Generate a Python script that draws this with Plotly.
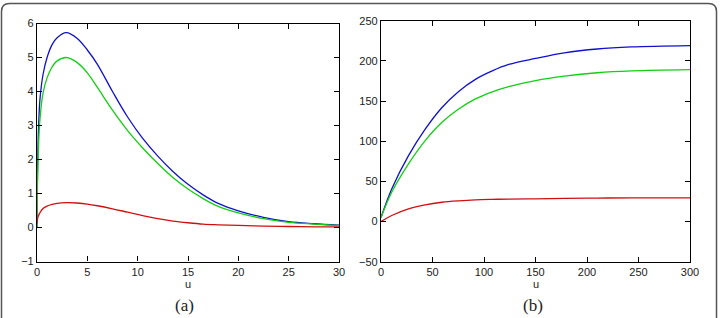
import plotly.graph_objects as go

# ---- panel (a) data ----
u_a = [0.0, 0.05, 0.15, 0.3, 0.6, 1.0, 1.5, 2.0, 2.9, 4.0, 5.0, 6.0, 7.5, 9.0, 10.5, 12.0, 13.5, 15.0, 16.5, 18.0, 20.0, 22.5, 25.0, 27.5, 30.0]
blue_a = [0.0, 1.6, 2.9, 3.79, 4.5, 5.0, 5.38, 5.58, 5.73, 5.56, 5.22, 4.8, 4.0, 3.25, 2.62, 2.1, 1.65, 1.27, 0.96, 0.71, 0.49, 0.3, 0.17, 0.11, 0.07]
green_a = [0.0, 1.3, 2.4, 3.2, 3.95, 4.4, 4.72, 4.9, 5.0, 4.85, 4.55, 4.12, 3.45, 2.85, 2.34, 1.88, 1.47, 1.13, 0.85, 0.62, 0.43, 0.26, 0.15, 0.1, 0.06]
red_a = [0.12, 0.25, 0.35, 0.44, 0.56, 0.63, 0.68, 0.71, 0.73, 0.72, 0.69, 0.64, 0.55, 0.45, 0.35, 0.26, 0.19, 0.14, 0.1, 0.08, 0.06, 0.04, 0.03, 0.02, 0.02]

# ---- panel (b) data ----
u_b = [0, 10.4, 26.7, 42.9, 59.2, 75.4, 91.7, 108, 124, 150, 178, 210, 243, 300]
blue_b = [5, 40.6, 82, 115, 142, 162, 177, 187.5, 195.5, 203, 210, 214.8, 217.3, 219]
green_b = [5, 36.5, 71.8, 100.7, 123.5, 140, 152.6, 161.5, 168, 175.5, 181, 185.2, 187.5, 189]
red_b = [0, 7.5, 15.8, 20.8, 24, 25.8, 27, 27.6, 28, 28.3, 28.8, 29.2, 29.4, 29.5]

xticks_a = [0, 5, 10, 15, 20, 25, 30]
yticks_a = [-1, 0, 1, 2, 3, 4, 5, 6]
xticks_b = [0, 50, 100, 150, 200, 250, 300]
yticks_b = [-50, 0, 50, 100, 150, 200, 250]

W, H = 723, 318
fig = go.Figure()

line_w = 1.3
for x, ys, ax in [(u_a, (blue_a, green_a, red_a), ("x", "y")), (u_b, (blue_b, green_b, red_b), ("x2", "y2"))]:
    for y, c in zip(ys, ("#1010d0", "#10d010", "#d01010")):
        fig.add_trace(go.Scatter(x=x, y=y, mode="lines", line=dict(color=c, width=line_w, shape="spline", smoothing=1.0),
                                 xaxis=ax[0], yaxis=ax[1], showlegend=False, hoverinfo="skip"))

font = dict(family="Liberation Sans, Arial, sans-serif", size=11, color="#222")
axcommon = dict(showline=True, linecolor="black", linewidth=1.2, mirror="ticks", ticks="inside", ticklen=5,
                tickcolor="black", showgrid=False, zeroline=False, tickfont=font, automargin=False)

fig.update_layout(
    width=W, height=H, margin=dict(l=0, r=0, t=0, b=0),
    paper_bgcolor="white", plot_bgcolor="white",
    xaxis=dict(domain=[37 / W, 339 / W], range=[0, 30], tickvals=xticks_a, anchor="y", **axcommon),
    yaxis=dict(domain=[1 - 261.5 / H, 1 - 23.5 / H], range=[-1, 6], tickvals=yticks_a, anchor="x", **axcommon),
    xaxis2=dict(domain=[381 / W, 690 / W], range=[0, 300], tickvals=xticks_b, anchor="y2", **axcommon),
    yaxis2=dict(domain=[1 - 261.7 / H, 1 - 20.7 / H], range=[-50, 250], tickvals=yticks_b, anchor="x2", **axcommon),
)

# axis titles
fig.add_annotation(x=188 / W, y=1 - 284 / H, xref="paper", yref="paper", text="u", showarrow=False,
                   font=font, xanchor="center", yanchor="middle")
fig.add_annotation(x=535.5 / W, y=1 - 284 / H, xref="paper", yref="paper", text="u", showarrow=False,
                   font=font, xanchor="center", yanchor="middle")

serif = dict(family="Liberation Serif, DejaVu Serif, serif", size=17, color="#222")
fig.add_annotation(x=185 / W, y=1 - 305 / H, xref="paper", yref="paper", text="(a)", showarrow=False,
                   font=serif, xanchor="center", yanchor="middle")
fig.add_annotation(x=533 / W, y=1 - 305 / H, xref="paper", yref="paper", text="(b)", showarrow=False,
                   font=serif, xanchor="center", yanchor="middle")

# rounded outer frame
L, R, T, B, r = 1.5, 716.5, 3.5, 330, 8
def px(x): return x / W
def py(y): return 1 - y / H
path = (f"M {px(L)},{py(B)} L {px(L)},{py(T + r)} Q {px(L)},{py(T)} {px(L + r)},{py(T)} "
        f"L {px(R - r)},{py(T)} Q {px(R)},{py(T)} {px(R)},{py(T + r)} L {px(R)},{py(B)}")
fig.add_shape(type="path", path=path, xref="paper", yref="paper", line=dict(color="#555", width=1.5))

fig.write_html("out.html")
